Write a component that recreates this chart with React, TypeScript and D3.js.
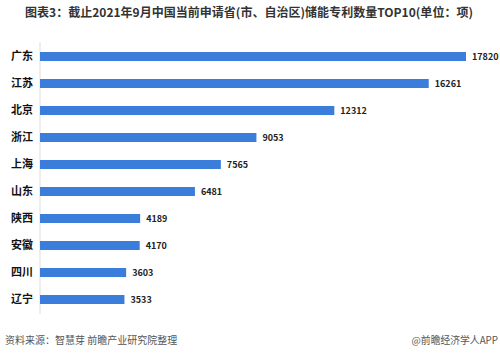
import React from "react";
import * as d3 from "d3";

const categories = ["广东", "江苏", "北京", "浙江", "上海", "山东", "陕西", "安徽", "四川", "辽宁"];
const values = [17820, 16261, 12312, 9053, 7565, 6481, 4189, 4170, 3603, 3533];
const title = "图表3：截止2021年9月中国当前申请省(市、自治区)储能专利数量TOP10(单位：项)";
const source = "资料来源：智慧芽 前瞻产业研究院整理";
const credit = "@前瞻经济学人APP";

export default function App() {
  const W = 500, H = 357;
  const x0 = 40;
  const x = d3.scaleLinear().domain([0, 17820]).range([x0, 466]);
  const y = d3.scaleBand().domain(categories).range([43, 313]).paddingInner(0.667).paddingOuter(0.333);
  const font = "'Noto Sans CJK SC', 'Noto Sans', sans-serif";
  return (
    <svg width={W} height={H} style={{ position: "absolute", left: 0, top: 0, background: "#fff" }} fontFamily={font}>
      <rect width={W} height={H} fill="#fff" />
      <text x={25} y={17} fontSize={12} fontWeight="bold" fill="#333" textLength={448} lengthAdjust="spacingAndGlyphs">{title}</text>
      <line x1={x0} x2={x0} y1={42} y2={314} stroke="#ddd" strokeWidth={1} />
      {categories.map((c, i) => {
        const yy = y(c)!;
        const bw = y.bandwidth();
        return (
          <g key={c}>
            <rect x={x0} y={yy} width={x(values[i]) - x0} height={bw} fill="#3a7ddb" />
            <text x={33} y={yy + bw / 2} dy="0.35em" textAnchor="end" fontSize={11} fontWeight="bold" fill="#111">{c}</text>
            <text x={x(values[i]) + 6} y={yy + bw / 2} dy="0.35em" fontSize={9} fontWeight="bold" fill="#222">{values[i]}</text>
          </g>
        );
      })}
      <text x={5} y={344} fontSize={10} fill="#555">{source}</text>
      <text x={498} y={344} fontSize={9.8} fill="#555" textAnchor="end">{credit}</text>
    </svg>
  );
}
